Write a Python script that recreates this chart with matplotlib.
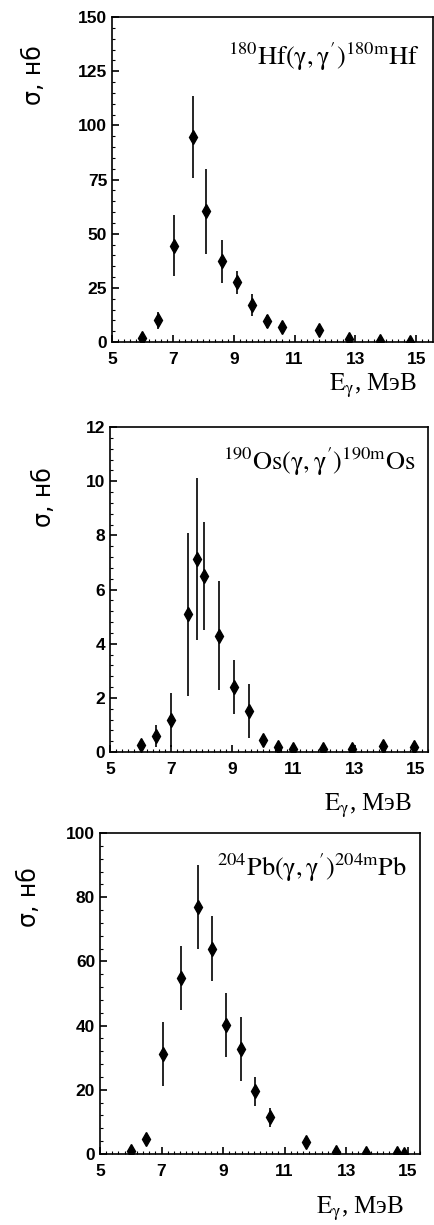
import matplotlib
matplotlib.use('Agg')
import matplotlib.pyplot as plt
from matplotlib.ticker import MultipleLocator

plt.rcParams['mathtext.fontset'] = 'stix'

# 180Hf
hf_e = [6.0, 6.5, 7.05, 7.65, 8.1, 8.6, 9.1, 9.6, 10.1, 10.6, 11.8, 12.8, 13.8, 14.8]
hf_s = [1.8, 10.0, 44.5, 94.5, 60.3, 37.2, 27.5, 17.2, 9.5, 6.9, 5.7, 1.4, 0.3, 0.0]
hf_err = [1.5, 4.0, 14.0, 19.0, 19.5, 10.0, 5.5, 5.0, 3.0, 2.0, 1.5, 1.0, 0.5, 0.3]

# 190Os
os_e = [6.0, 6.5, 7.0, 7.55, 7.83, 8.09, 8.56, 9.05, 9.53, 10.0, 10.5, 10.97, 11.95, 12.93, 13.93, 14.94]
os_s = [0.27, 0.59, 1.17, 5.08, 7.13, 6.5, 4.3, 2.4, 1.5, 0.46, 0.19, 0.11, 0.11, 0.12, 0.21, 0.19]
os_err = [0.1, 0.4, 1.0, 3.0, 3.0, 2.0, 2.0, 1.0, 1.0, 0.15, 0.1, 0.05, 0.05, 0.05, 0.08, 0.08]

# 204Pb
pb_e = [6.0, 6.5, 7.06, 7.63, 8.17, 8.65, 9.1, 9.58, 10.05, 10.52, 11.7, 12.66, 13.66, 14.64, 14.88]
pb_s = [0.8, 4.7, 31.1, 54.7, 77.0, 64.0, 40.2, 32.6, 19.5, 11.4, 3.7, 0.6, 0.3, 0.3, 0.1]
pb_err = [0.5, 1.5, 10.0, 10.0, 13.0, 10.0, 10.0, 10.0, 4.5, 3.0, 1.5, 0.4, 0.3, 0.3, 0.2]

x_ticks = [5, 7, 9, 11, 13, 15]

fig = plt.figure(figsize=(4.35, 12.25), dpi=100)

panels = [
    # data, axes rect, xmax, ymax, major, minor, reaction, ylabel pos, title y, xlabel y
    (hf_e, hf_s, hf_err, [0.2575, 0.7208, 0.738, 0.2653], 15.55, 150, 25, 5,
     r'$^{180}\mathrm{Hf(γ,γ^{\prime})}^{180\mathrm{m}}\mathrm{Hf}$', (-0.243, 0.82), 0.877, -0.135),
    (os_e, os_s, os_err, [0.2529, 0.3861, 0.731, 0.2653], 15.4, 12, 2, 0.4,
     r'$^{190}\mathrm{Os(γ,γ^{\prime})}^{190\mathrm{m}}\mathrm{Os}$', (-0.207, 0.785), 0.892, -0.165),
    (pb_e, pb_s, pb_err, [0.2299, 0.058, 0.7356, 0.262], 15.4, 100, 20, 4,
     r'$^{204}\mathrm{Pb(γ,γ^{\prime})}^{204\mathrm{m}}\mathrm{Pb}$', (-0.222, 0.80), 0.89, -0.17),
]

for e, s, err, rect, xmax, ymax, major, minor, title, ylpos, ty, xly in panels:
    ax = fig.add_axes(rect)
    ax.errorbar(e, s, yerr=err, fmt='d', color='black', markersize=7,
                elinewidth=1.2, capsize=0)
    ax.set_xlim(5, xmax)
    ax.set_ylim(0, ymax)
    ax.set_xticks(x_ticks)
    ax.xaxis.set_minor_locator(MultipleLocator(0.2))
    ax.yaxis.set_major_locator(MultipleLocator(major))
    ax.yaxis.set_minor_locator(MultipleLocator(minor))
    ax.tick_params(which='both', direction='in', top=False, right=False)
    ax.tick_params(which='major', length=5, width=1.2)
    ax.tick_params(which='minor', length=2.5, width=0.8)
    ax.tick_params(axis='x', which='major', pad=7)
    for lab in ax.get_xticklabels() + ax.get_yticklabels():
        lab.set_fontfamily('Liberation Sans')
        lab.set_fontweight('bold')
        lab.set_fontsize(12.5)
    for sp in ax.spines.values():
        sp.set_linewidth(1.2)
    ax.text(ylpos[0], ylpos[1], 'σ, нб', transform=ax.transAxes, rotation=90,
            ha='center', va='center', fontsize=17, family='DejaVu Sans')
    ax.text(0.96, ty, title, transform=ax.transAxes, ha='right', va='center',
            fontsize=19)
    ax.text(0.95, xly, r'$\mathrm{E_{γ}}$, МэВ', transform=ax.transAxes,
            ha='right', va='center', fontsize=18, family='Liberation Serif')

fig.savefig('out.png', dpi=100)
